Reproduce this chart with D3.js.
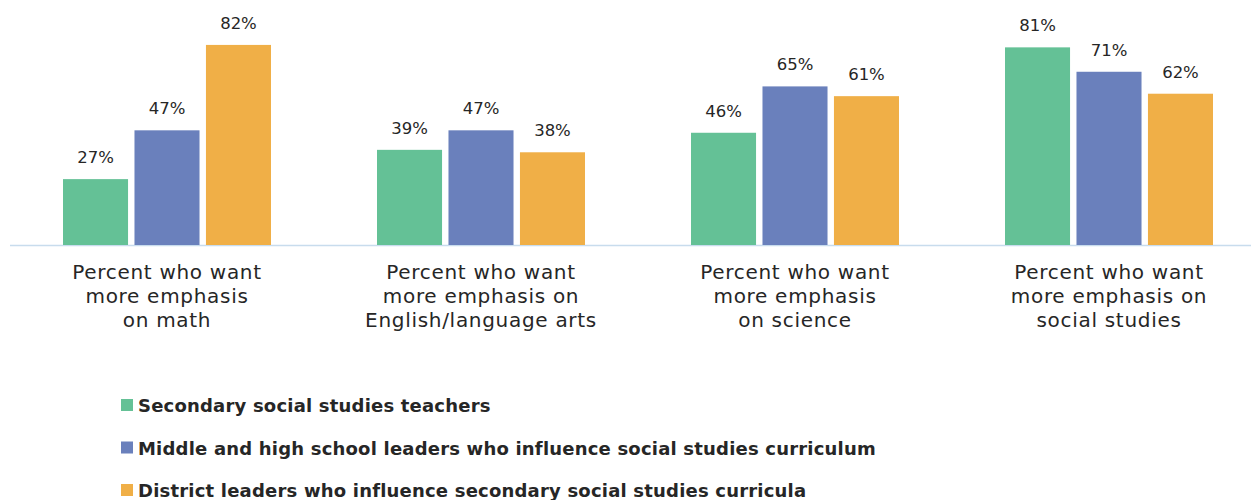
<!DOCTYPE html>
<html>
<head>
<meta charset="utf-8">
<script src="https://cdn.jsdelivr.net/npm/d3@7"></script>
<style>
  html, body { margin: 0; padding: 0; background: #ffffff; }
  svg { display: block; }
</style>
</head>
<body>
<svg id="chart" width="1251" height="500"></svg>
<script>
const categories = [
  ["Percent who want", "more emphasis", "on math"],
  ["Percent who want", "more emphasis on", "English/language arts"],
  ["Percent who want", "more emphasis", "on science"],
  ["Percent who want", "more emphasis on", "social studies"]
];
const categoryKeys = ["math", "ela", "science", "social"];
const seriesNames = [
  "Secondary social studies teachers",
  "Middle and high school leaders who influence social studies curriculum",
  "District leaders who influence secondary social studies curricula"
];
const teachers = [27, 39, 46, 81];
const schoolLeaders = [47, 47, 65, 71];
const districtLeaders = [82, 38, 61, 62];
const colors = ["#64c196", "#6a80bc", "#f0af47"];

const series = [teachers, schoolLeaders, districtLeaders];
const W = 1251, H = 500;
const svg = d3.select("#chart");
const font = "'DejaVu Sans', sans-serif";

const x0 = d3.scaleBand().domain(categoryKeys).range([10, 1266]).paddingInner(0.3376).paddingOuter(0.1688);
const x1 = d3.scaleBand().domain(d3.range(series.length)).range([0, x0.bandwidth()]).paddingInner(0.09).paddingOuter(0);
const y = d3.scaleLinear().domain([0, 100]).range([245, 1]);

// axis line
svg.append("line")
  .attr("x1", 10).attr("x2", W)
  .attr("y1", y(0) + 0.5).attr("y2", y(0) + 0.5)
  .attr("stroke", "#c8dced").attr("stroke-width", 1.5);

const groups = svg.selectAll("g.grp").data(categoryKeys).enter().append("g")
  .attr("class", "grp")
  .attr("transform", d => `translate(${x0(d)},0)`);

groups.each(function(k, ci) {
  const g = d3.select(this);
  series.forEach((s, si) => {
    g.append("rect")
      .attr("x", x1(si)).attr("width", x1.bandwidth())
      .attr("y", y(s[ci])).attr("height", y(0) - y(s[ci]))
      .attr("fill", colors[si]);
    g.append("text")
      .attr("x", x1(si) + x1.bandwidth() / 2)
      .attr("y", y(s[ci]) - 16)
      .attr("text-anchor", "middle")
      .attr("font-family", font).attr("font-size", 16.5)
      .attr("fill", "#262626")
      .text(s[ci] + "%");
  });
  const t = g.append("text")
    .attr("text-anchor", "middle")
    .attr("font-family", font).attr("font-size", 20)
    .attr("letter-spacing", 0.7)
    .attr("fill", "#262626");
  categories[ci].forEach((line, li) => {
    t.append("tspan").attr("x", x0.bandwidth() / 2).attr("y", 279 + li * 24).text(line);
  });
});

// legend
const leg = svg.selectAll("g.leg").data(seriesNames).enter().append("g")
  .attr("class", "leg")
  .attr("transform", (d, i) => `translate(121,${399 + i * 42.5})`);
leg.append("rect").attr("width", 12).attr("height", 12).attr("fill", (d, i) => colors[i]);
leg.append("text").attr("x", 17).attr("y", 13)
  .attr("font-family", font).attr("font-size", 18).attr("font-weight", "bold")
  .attr("letter-spacing", 0.2)
  .attr("fill", "#262626")
  .text(d => d);
</script>
</body>
</html>
